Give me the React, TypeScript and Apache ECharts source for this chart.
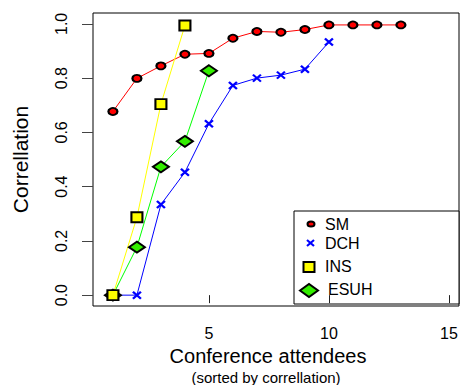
import React, { useEffect, useRef } from "react";
import * as echarts from "echarts";

const xTickValues = [5, 10, 15];
const yTickValues = [0, 0.2, 0.4, 0.6, 0.8, 1.0];
const smValues = [0.677, 0.799, 0.845, 0.888, 0.891, 0.947, 0.972, 0.969, 0.979, 0.996, 0.996, 0.996, 0.996];
const dchValues = [0, 0, 0.334, 0.453, 0.632, 0.773, 0.8, 0.811, 0.833, 0.933];
const insValues = [0, 0.287, 0.704, 0.994];
const esuhValues = [0, 0.177, 0.473, 0.567, 0.827];
const seriesNames = ["SM", "DCH", "INS", "ESUH"];

const FONT = "'Liberation Sans', Arial, Helvetica, sans-serif";

const toPairs = (vals: number[]) => vals.map((v, i) => [i + 1, v]);

export default function App() {
  const ref = useRef<HTMLDivElement>(null);
  useEffect(() => {
    if (!ref.current) return;
    const chart = echarts.init(ref.current, null, { renderer: "svg" });
    const lx = 294, ly = 211;
    chart.setOption({
      animation: false,
      backgroundColor: "#ffffff",
      textStyle: { fontFamily: FONT },
      grid: {
        left: 93,
        top: 13,
        width: 366,
        height: 293,
        show: true,
        borderColor: "#000",
        borderWidth: 1,
        backgroundColor: "transparent",
      },
      xAxis: {
        type: "value",
        min: 0.17,
        max: 15.42,
        name: "Conference attendees",
        nameLocation: "middle",
        nameGap: 39,
        nameTextStyle: { fontSize: 20, color: "#000", fontFamily: FONT, padding: [0, 16, 0, 0] },
        axisLine: { show: false },
        axisTick: { show: true, length: 8, customValues: xTickValues, lineStyle: { color: "#222" } },
        axisLabel: { customValues: xTickValues, fontSize: 16, color: "#000", margin: 19, fontFamily: FONT },
        splitLine: { show: false },
      },
      yAxis: {
        type: "value",
        min: -0.04,
        max: 1.04,
        name: "Correllation",
        nameLocation: "middle",
        nameRotate: 90,
        nameGap: 62,
        nameTextStyle: { fontSize: 21, color: "#000", fontFamily: FONT },
        axisLine: { show: false },
        axisTick: { show: true, length: 11, customValues: yTickValues, lineStyle: { color: "#444" } },
        axisLabel: {
          customValues: yTickValues,
          rotate: 90,
          fontSize: 16,
          color: "#000",
          margin: 24,
          fontFamily: FONT,
          formatter: (v: number) => v.toFixed(1),
        },
        splitLine: { show: false },
      },
      series: [
        {
          name: seriesNames[0],
          type: "line",
          data: toPairs(smValues),
          symbol: "circle",
          symbolSize: [9, 7],
          lineStyle: { color: "#ff0000", width: 1 },
          itemStyle: { color: "#ff0000", borderColor: "#000", borderWidth: 2 },
        },
        {
          name: seriesNames[1],
          type: "line",
          data: toPairs(dchValues),
          symbol: "path://M0,0L10,10M0,10L10,0",
          symbolSize: [8, 7],
          lineStyle: { color: "#0000ff", width: 1 },
          itemStyle: { color: "#0000ff", borderColor: "#0000ff", borderWidth: 2.2 },
        },
        {
          name: seriesNames[3],
          type: "line",
          data: toPairs(esuhValues),
          symbol: "diamond",
          symbolSize: [16, 11],
          lineStyle: { color: "#00ff00", width: 1 },
          itemStyle: { color: "#33ee00", borderColor: "#000", borderWidth: 2 },
        },
        {
          name: seriesNames[2],
          type: "line",
          data: toPairs(insValues),
          symbol: "rect",
          symbolSize: [11, 10],
          lineStyle: { color: "#ffff00", width: 1 },
          itemStyle: { color: "#ffff00", borderColor: "#000", borderWidth: 2 },
        },
      ],
      graphic: [
        {
          type: "text",
          x: 266,
          y: 377,
          style: {
            text: "(sorted by correllation)",
            fontSize: 15,
            fontFamily: FONT,
            fill: "#000",
            align: "center",
            verticalAlign: "middle",
          },
        },
        {
          type: "group",
          silent: true,
          children: [
            { type: "rect", shape: { x: lx, y: ly, width: 165, height: 93 }, style: { fill: "#fff", stroke: "#000", lineWidth: 1 } },
            { type: "ellipse", shape: { cx: 311, cy: 224, rx: 3.5, ry: 2.6 }, style: { fill: "#ff0000", stroke: "#000", lineWidth: 2 } },
            { type: "line", shape: { x1: 307, y1: 240, x2: 314, y2: 246 }, style: { stroke: "#0000ff", lineWidth: 2.2 } },
            { type: "line", shape: { x1: 307, y1: 246, x2: 314, y2: 240 }, style: { stroke: "#0000ff", lineWidth: 2.2 } },
            { type: "rect", shape: { x: 303.5, y: 262, width: 11, height: 10 }, style: { fill: "#ffff00", stroke: "#000", lineWidth: 2 } },
            { type: "polygon", shape: { points: [[300, 290.5], [309, 284], [318, 290.5], [309, 297]] }, style: { fill: "#33ee00", stroke: "#000", lineWidth: 2 } },
            { type: "text", x: 325, y: 224.5, style: { text: seriesNames[0], fontSize: 16, fontFamily: FONT, fill: "#000", verticalAlign: "middle" } },
            { type: "text", x: 325, y: 243.5, style: { text: seriesNames[1], fontSize: 16, fontFamily: FONT, fill: "#000", verticalAlign: "middle" } },
            { type: "text", x: 325, y: 266, style: { text: seriesNames[2], fontSize: 16, fontFamily: FONT, fill: "#000", verticalAlign: "middle" } },
            { type: "text", x: 328, y: 289, style: { text: seriesNames[3], fontSize: 16, fontFamily: FONT, fill: "#000", verticalAlign: "middle" } },
          ],
        },
      ],
    });
    return () => chart.dispose();
  }, []);
  return (
    <div
      ref={ref}
      style={{ position: "absolute", left: 0, top: 0, width: 464, height: 385, background: "#fff" }}
    />
  );
}
